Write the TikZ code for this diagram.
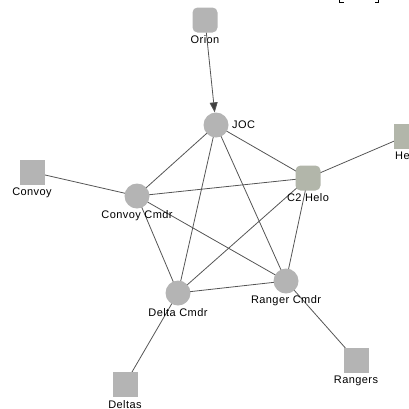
\documentclass[tikz,border=0pt]{standalone}
\usepackage{fontspec}
\setmainfont{Liberation Sans}[LetterSpace=4]
\usetikzlibrary{arrows.meta,backgrounds}
\definecolor{nodegray}{RGB}{180,180,180}
\definecolor{helogray}{RGB}{178,182,170}
\definecolor{edgegray}{RGB}{85,85,85}
\definecolor{tipgray}{RGB}{64,64,64}
\begin{document}
\begin{tikzpicture}[x=1pt,y=-1pt,
  lbl/.style={inner sep=0pt,font=\fontsize{11}{12}\selectfont},
  circ/.style={circle,fill=nodegray,minimum size=25pt,inner sep=0pt},
  sq/.style={rectangle,fill=nodegray,minimum size=25pt,inner sep=0pt},
  rsq/.style={sq,rounded corners=5pt},
  link/.style={draw=edgegray,line width=0.8pt}]
\clip (0,0) rectangle (409,408);
% nodes
\node[rsq] (orion) at (205,20) {};
\node[circ] (joc) at (216,125) {};
\node[rsq,fill=helogray] (c2) at (308,178) {};
\node[sq,fill=helogray] (helo) at (406,136) {};
\node[sq] (convoy) at (32,172) {};
\node[circ] (ccmdr) at (137,196) {};
\node[circ] (dcmdr) at (178,293) {};
\node[circ] (rcmdr) at (286,281) {};
\node[sq] (rangers) at (356,360) {};
\node[sq] (deltas) at (125,384) {};
% labels
\node[lbl] (lorion) at (205,40) {Orion};
\node[lbl,anchor=west] (ljoc) at (232,125) {JOC};
\node[lbl] (lc2) at (308,198) {C2 Helo};
\node[lbl,anchor=west] (lhelo) at (395,156) {Helo};
\node[lbl] (lconvoy) at (32,193) {Convoy};
\node[lbl] (lccmdr) at (137,216) {Convoy Cmdr};
\node[lbl] (ldcmdr) at (178,313) {Delta Cmdr};
\node[lbl] (lrcmdr) at (286,301) {Ranger Cmdr};
\node[lbl] (lrangers) at (356,381) {Rangers};
\node[lbl] (ldeltas) at (125,405) {Deltas};
% edges
\begin{scope}[on background layer]
\foreach \a/\b in {joc/ccmdr,joc/dcmdr,joc/rcmdr,joc/c2,ccmdr/c2,ccmdr/dcmdr,ccmdr/rcmdr,c2/dcmdr,c2/rcmdr,dcmdr/rcmdr,convoy/ccmdr,helo/c2,deltas/dcmdr,rangers/rcmdr}
  \draw[link] (\a.center) -- (\b.center);
\end{scope}
\draw[link,-{Triangle[length=10pt,width=8pt,fill=tipgray]}] (orion) -- (joc);
% cut-off bracket fragments at the top edge
\draw[black,line width=1.4pt] (339.5,0) -- (339.5,2.5) -- (343.5,2.5);
\draw[black,line width=1.4pt] (378.5,0) -- (378.5,2.5) -- (374.5,2.5);
\end{tikzpicture}
\end{document}
